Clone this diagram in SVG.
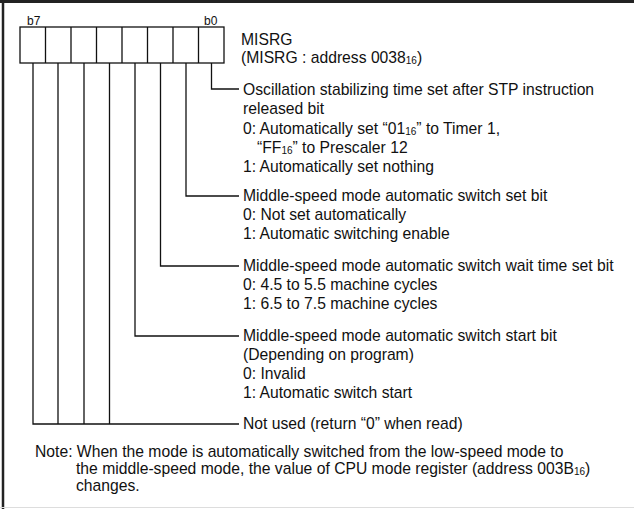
<svg xmlns="http://www.w3.org/2000/svg" width="634" height="509" viewBox="0 0 634 509">
<style>
text{font-family:"Liberation Sans",Arial,sans-serif;font-size:15.7px;fill:#111}
.bit{font-size:12px}
.sub{font-size:10px}
.ln{fill:none;stroke:#111;stroke-width:1.3}
.cell{fill:#fff;stroke:#111;stroke-width:1.3}
</style>
<rect width="634" height="509" fill="#fff"/>
<g id="frame">
<line x1="0" y1="1.5" x2="634" y2="1.5" stroke="#222" stroke-width="3"/>
<line x1="3" y1="0" x2="3" y2="509" stroke="#222" stroke-width="2.5"/>
<line x1="0" y1="507.5" x2="634" y2="507.5" stroke="#ddd" stroke-width="1"/>
</g>
<g id="register">
<rect class="cell" x="20" y="27" width="204" height="36"/>
<path class="ln" d="M45.5 27V63M71 27V63M96.5 27V63M122 27V63M147.5 27V63M173 27V63M198.5 27V63"/>
<text class="bit" x="27" y="25">b7</text>
<text class="bit" x="204" y="25">b0</text>
<text x="241" y="45">MISRG</text>
<text x="241" y="63">(MISRG : address 0038<tspan class="sub" dy="1">16</tspan><tspan dy="-1">)</tspan></text>
</g>
<g id="connectors">
<path class="ln" d="M211.5 63V89H239"/>
<path class="ln" d="M186 63V196H239"/>
<path class="ln" d="M160.5 63V266H239"/>
<path class="ln" d="M135 63V336H239"/>
<path class="ln" d="M109.5 63V424M84 63V424M58 63V424M33 63V424H239"/>
</g>
<g id="bit0">
<text x="243" y="95">Oscillation stabilizing time set after STP instruction</text>
<text x="243" y="114">released bit</text>
<text x="243" y="134">0: Automatically set “01<tspan class="sub" dy="1">16</tspan><tspan dy="-1">” to Timer 1,</tspan></text>
<text x="257" y="153">“FF<tspan class="sub" dy="1">16</tspan><tspan dy="-1">” to Prescaler 12</tspan></text>
<text x="243" y="172">1: Automatically set nothing</text>
</g>
<g id="bit1">
<text x="243" y="201">Middle-speed mode automatic switch set bit</text>
<text x="243" y="220">0: Not set automatically</text>
<text x="243" y="239">1: Automatic switching enable</text>
</g>
<g id="bit2">
<text x="243" y="271">Middle-speed mode automatic switch wait time set bit</text>
<text x="243" y="290">0: 4.5 to 5.5 machine cycles</text>
<text x="243" y="309">1: 6.5 to 7.5 machine cycles</text>
</g>
<g id="bit3">
<text x="243" y="341">Middle-speed mode automatic switch start bit</text>
<text x="243" y="360">(Depending on program)</text>
<text x="243" y="379">0: Invalid</text>
<text x="243" y="398">1: Automatic switch start</text>
</g>
<g id="bits4to7">
<text x="243" y="429">Not used (return “0” when read)</text>
</g>
<g id="note">
<text x="35" y="457">Note: When the mode is automatically switched from the low-speed mode to</text>
<text x="76" y="474">the middle-speed mode, the value of CPU mode register (address 003B<tspan class="sub" dy="1">16</tspan><tspan dy="-1">)</tspan></text>
<text x="76" y="491">changes.</text>
</g>
</svg>
